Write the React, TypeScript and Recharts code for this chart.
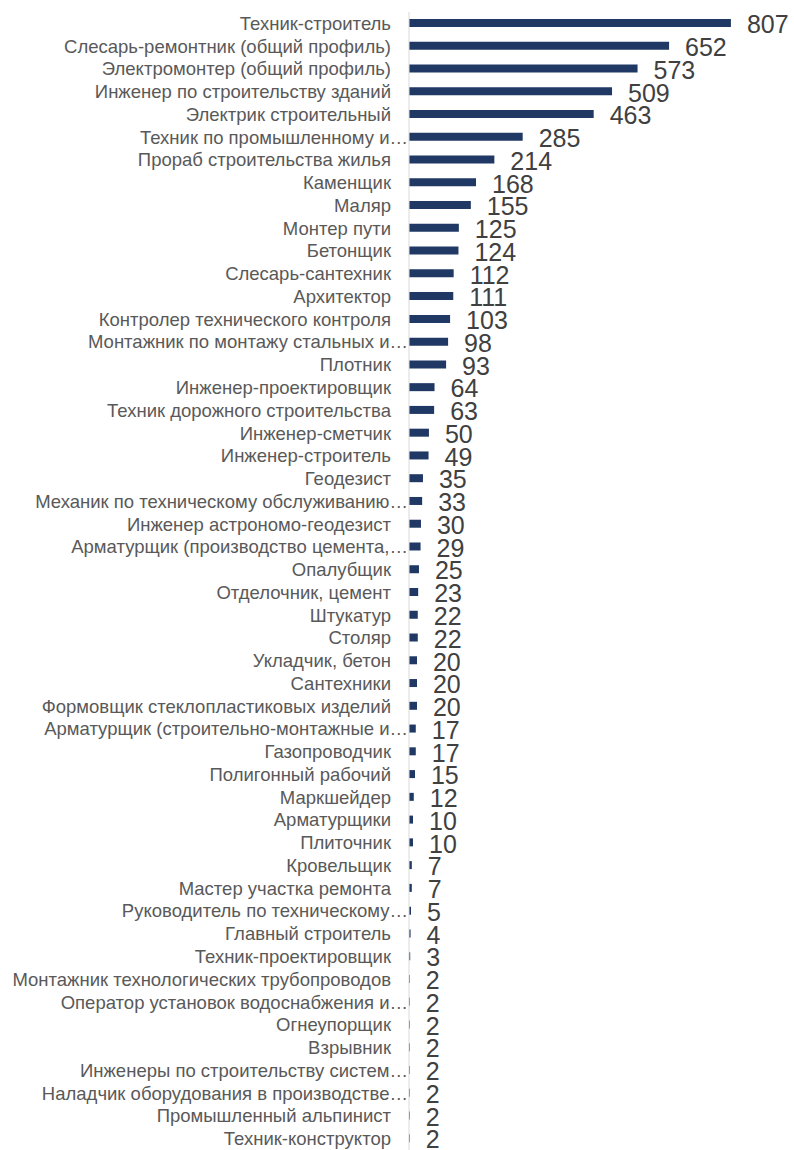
import React from "react";
import { BarChart, Bar, XAxis, YAxis, LabelList } from "recharts";

const categories = [
  "Техник-строитель",
  "Слесарь-ремонтник (общий профиль)",
  "Электромонтер (общий профиль)",
  "Инженер по строительству зданий",
  "Электрик строительный",
  "Техник по промышленному и…",
  "Прораб строительства жилья",
  "Каменщик",
  "Маляр",
  "Монтер пути",
  "Бетонщик",
  "Слесарь-сантехник",
  "Архитектор",
  "Контролер технического контроля",
  "Монтажник по монтажу стальных и…",
  "Плотник",
  "Инженер-проектировщик",
  "Техник дорожного строительства",
  "Инженер-сметчик",
  "Инженер-строитель",
  "Геодезист",
  "Механик по техническому обслуживанию…",
  "Инженер астрономо-геодезист",
  "Арматурщик (производство цемента,…",
  "Опалубщик",
  "Отделочник, цемент",
  "Штукатур",
  "Столяр",
  "Укладчик, бетон",
  "Сантехники",
  "Формовщик стеклопластиковых изделий",
  "Арматурщик (строительно-монтажные и…",
  "Газопроводчик",
  "Полигонный рабочий",
  "Маркшейдер",
  "Арматурщики",
  "Плиточник",
  "Кровельщик",
  "Мастер участка ремонта",
  "Руководитель по техническому…",
  "Главный строитель",
  "Техник-проектировщик",
  "Монтажник технологических трубопроводов",
  "Оператор установок водоснабжения и…",
  "Огнеупорщик",
  "Взрывник",
  "Инженеры по строительству систем…",
  "Наладчик оборудования в производстве…",
  "Промышленный альпинист",
  "Техник-конструктор",
];

const counts = [
  807, 652, 573, 509, 463, 285, 214, 168, 155, 125, 124, 112, 111, 103, 98, 93,
  64, 63, 50, 49, 35, 33, 30, 29, 25, 23, 22, 22, 20, 20, 20, 17, 17, 15, 12,
  10, 10, 7, 7, 5, 4, 3, 2, 2, 2, 2, 2, 2, 2, 2,
];

const xDomain = [0, 900];

const FONT = '"Liberation Sans", Arial, sans-serif';

const data = categories.map((name, i) => ({ name, value: counts[i] }));

function CategoryTick(props: any) {
  const { x, y, payload } = props;
  const label: string = payload.value;
  // Excel pushes the clipped labels right up against the axis
  const gap = label.endsWith("…") ? 1 : 18;
  return (
    <text
      x={x - gap}
      y={y}
      dy="0.35em"
      textAnchor="end"
      fontFamily={FONT}
      fontSize={18.5}
      fill="#595959"
    >
      {label}
    </text>
  );
}

function ValueLabel(props: any) {
  const { x, y, width, height, value } = props;
  return (
    <text
      x={x + width + 16}
      y={y + height / 2 + 1.5}
      dy="0.35em"
      textAnchor="start"
      fontFamily={FONT}
      fontSize={25}
      fill="#404040"
    >
      {value}
    </text>
  );
}

export default function App() {
  return (
    <div
      style={{
        position: "absolute",
        left: 0,
        top: 0,
        width: 794,
        height: 1150,
        background: "#fff",
      }}
    >
      <BarChart
        width={794}
        height={1150}
        data={data}
        layout="vertical"
        margin={{ top: 12, right: 26, bottom: 0, left: 0 }}
        barCategoryGap={0}
      >
        <XAxis type="number" domain={xDomain} hide />
        <YAxis
          type="category"
          dataKey="name"
          width={409}
          interval={0}
          tickLine={false}
          tickSize={0}
          tickMargin={0}
          axisLine={{ stroke: "#d9d9d9", strokeWidth: 1 }}
          tick={<CategoryTick />}
        />
        <Bar dataKey="value" fill="#203864" barSize={8} isAnimationActive={false}>
          <LabelList dataKey="value" content={<ValueLabel />} />
        </Bar>
      </BarChart>
    </div>
  );
}
